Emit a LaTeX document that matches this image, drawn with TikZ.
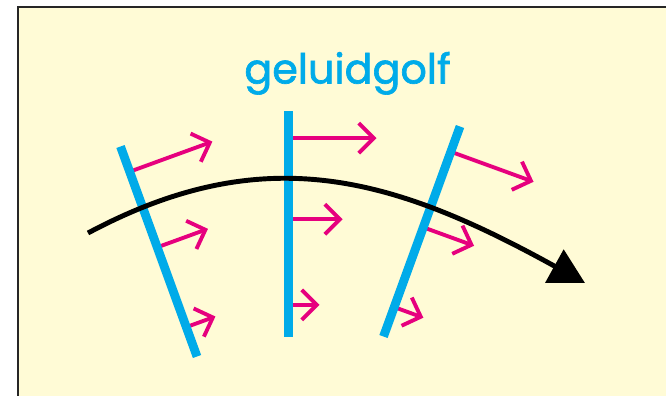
\documentclass[tikz,border=0pt]{standalone}
\usepackage{fontspec}
\newfontfamily\golffont[FakeBold=1.6]{Poppins}
\usetikzlibrary{arrows.meta,calc}

\definecolor{achtergrond}{RGB}{255,251,214}
\definecolor{golfblauw}{RGB}{0,171,233}
\definecolor{golfroze}{RGB}{230,0,126}

\begin{document}
\begin{tikzpicture}[
    front/.style={draw=golfblauw, line width=5pt},
    pijl/.style={-{Straight Barb[length=0.3cm, width=0.6cm]}, draw=golfroze, line width=2.2pt},
    baan/.style={-{Triangle[length=0.7cm, width=0.74cm]}, draw=black, line width=2.8pt}
]
    \useasboundingbox (0,0) rectangle (13.32,7.9);

    % achtergrond met kader
    \fill[white] (0,0) rectangle (13.32,7.9);
    \draw[draw=black!85, fill=achtergrond, line width=0.8pt] (0.36,7.76) rectangle (13.6,-0.3);

    \node[font=\golffont\fontsize{23.5}{27}\selectfont, text=golfblauw, anchor=base] (titel) at (6.95,6.23) {geluidgolf};

    % eindpunten van de drie golffronten
    \coordinate (f1_top) at (2.41,4.97);
    \coordinate (f1_bot) at (3.94,0.77);
    \coordinate (f2_top) at (5.77,5.68);
    \coordinate (f2_bot) at (5.77,1.17);
    \coordinate (f3_top) at (9.20,5.37);
    \coordinate (f3_bot) at (7.67,1.17);

    % pijltjes loodrecht op de fronten
    \foreach \ftop/\fbot/\hoek in {f1_top/f1_bot/20, f2_top/f2_bot/0, f3_top/f3_bot/-20}
        \foreach \t/\len in {0.12/1.76, 0.48/1.08, 0.86/0.62}
            \draw[pijl] ($(\ftop)!\t!(\fbot)$) -- ++(\hoek:\len);

    \draw[front] (f1_top) -- (f1_bot);
    \draw[front] (f2_top) -- (f2_bot);
    \draw[front] (f3_top) -- (f3_bot);

    % voortplantingsrichting
    \coordinate (start) at (1.76,3.24);
    \coordinate (einde) at (11.70,2.24);
    \draw[baan] (start) .. controls (5.28,5.12) and (7.85,4.37) .. (einde);

\end{tikzpicture}
\end{document}
